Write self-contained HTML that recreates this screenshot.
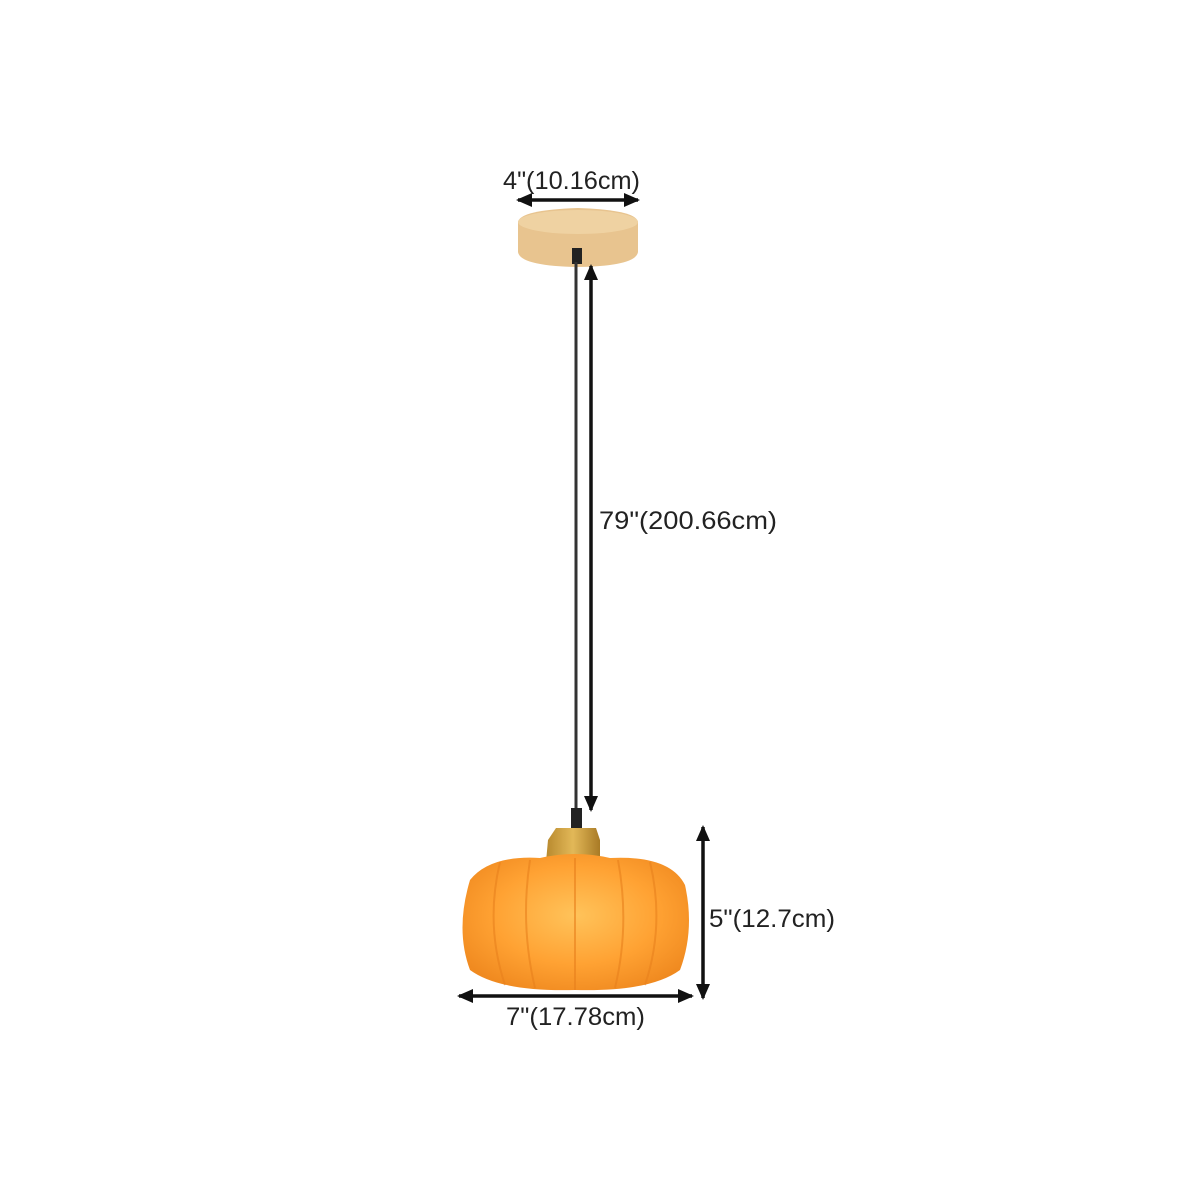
<!DOCTYPE html>
<html><head><style>body{margin:0;background:#fff}svg{display:block}text{font-family:"Liberation Sans",sans-serif;font-size:25px;fill:#222}</style></head><body>
<svg width="1200" height="1200" viewBox="0 0 1200 1200">
<defs>
<marker id="a" markerWidth="16" markerHeight="14" refX="14" refY="7" orient="auto-start-reverse" markerUnits="userSpaceOnUse" viewBox="0 0 16 14"><path d="M0,0L16,7L0,14z" fill="#111"/></marker>
<radialGradient id="p" cx="0.5" cy="0.45" r="0.6"><stop offset="0" stop-color="#ffc35a"/><stop offset="0.6" stop-color="#ffa233"/><stop offset="1" stop-color="#f08a20"/></radialGradient>
<linearGradient id="b" x1="0" x2="1"><stop offset="0" stop-color="#b8892e"/><stop offset="0.5" stop-color="#e2b858"/><stop offset="1" stop-color="#a87a25"/></linearGradient>
</defs>
<path d="M518,222 Q520,210 578,208 Q636,210 638,222 L638,252 Q636,266 578,267 Q520,266 518,252 Z" fill="#e8c48f"/>
<ellipse cx="578" cy="222" rx="60" ry="12" fill="#efd2a2"/>
<rect x="572" y="248" width="10" height="16" fill="#222"/>
<line x1="576" y1="262" x2="576" y2="812" stroke="#333" stroke-width="3"/>
<rect x="571" y="808" width="11" height="22" fill="#222"/>
<path d="M548,840 L556,828 L596,828 L600,840 L600,862 L546,862 Z" fill="url(#b)"/>
<path d="M470,880 Q490,855 540,858 Q575,850 610,858 Q670,855 685,885 Q695,930 680,970 Q650,992 575,990 Q500,992 470,970 Q455,930 470,880 Z" fill="url(#p)"/>
<g stroke="#e8801c" stroke-width="2" fill="none" opacity="0.6">
<path d="M500,862 Q485,925 505,985"/><path d="M530,860 Q520,925 535,988"/><path d="M575,858 Q575,925 575,990"/><path d="M618,860 Q630,925 615,988"/><path d="M650,862 Q665,925 645,985"/>
</g>
<g stroke="#111" stroke-width="3.5">
<line x1="518" y1="200" x2="638" y2="200" marker-start="url(#a)" marker-end="url(#a)"/>
<line x1="591" y1="266" x2="591" y2="810" marker-start="url(#a)" marker-end="url(#a)"/>
<line x1="703" y1="827" x2="703" y2="998" marker-start="url(#a)" marker-end="url(#a)"/>
<line x1="459" y1="996" x2="692" y2="996" marker-start="url(#a)" marker-end="url(#a)"/>
</g>
<text x="503" y="189" textLength="137" lengthAdjust="spacingAndGlyphs">4"(10.16cm)</text>
<text x="599" y="529" textLength="178" lengthAdjust="spacingAndGlyphs">79"(200.66cm)</text>
<text x="709" y="927" textLength="126" lengthAdjust="spacingAndGlyphs">5"(12.7cm)</text>
<text x="506" y="1025" textLength="139" lengthAdjust="spacingAndGlyphs">7"(17.78cm)</text>
</svg>
</body></html>
